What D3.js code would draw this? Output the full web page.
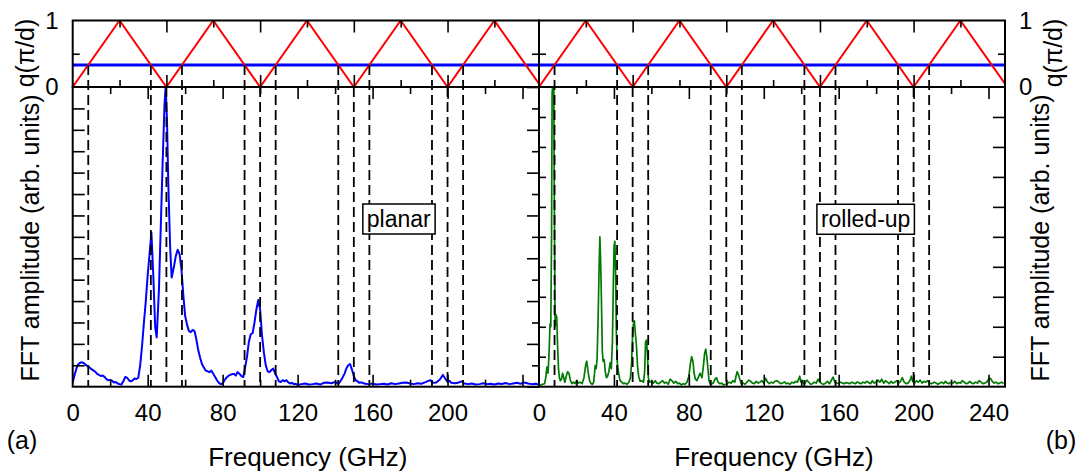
<!DOCTYPE html>
<html>
<head>
<meta charset="utf-8">
<script src="https://cdn.jsdelivr.net/npm/d3@7"></script>
<style>
body { margin: 0; background: #fff; }
text { font-family: "Liberation Sans", Arial, sans-serif; fill: #000; }
</style>
</head>
<body>
<div id="chart"></div>
<script>
// ---- data ----
var bandGHz = [0, 25, 50, 75, 100, 125, 150, 175, 200, 225, 250];
var bandQ   = [0, 1, 0, 1, 0, 1, 0, 1, 0, 1, 0];
var qLevel = 0.33;
var modeGHz = [8.3, 41.7, 50, 58.3, 91.7, 100, 108.3, 141.7, 150, 158.3, 191.7, 200, 208.3];
var modeQ   = [0.33, 0.33, 0, 0.33, 0.33, 0, 0.33, 0.33, 0, 0.33, 0.33, 0, 0.33];

var planarGHz = [0,1,2,3,4,5,6,7,8,9,10,11,12,13,14,15,16,17,18,19,20,21,22,23,24,25,26,27,28,29,30,31,32,33,34,35,36,37,38,39,40,41,42,43,44,44.8,46,47,48,49,49.6,50.3,51,52,52.8,54,55,56,57,58,59,60,61,62,63,64,65,66,67,68,69,70,71,72,73,74,75,76,77,78,79,80,81,82,83,84,85,86,87,88,89,90,91,92,93,94,95,96,97,98,99,100,101,102,103,104,105,106,107,108,109,110,111,112,113,114,115,116,117,118,119,120,122,124,126,128,130,132,134,136,138,140,142,143.5,145,146,147,148,149,150,151,152,153,154,156,158,160,162,164,166,168,170,172,174,176,178,180,182,184,186,188,190,191,192,194,196,197.5,199,200,201,202,204,206,207.5,209,211,213,215,217,219,221,223,225,227,229,231,233,235,237,239,241,243,245,247,249];
var planarAmp = [0.2,0.55,0.85,1.05,1.12,1.14,1.1,1.02,0.95,0.9,0.82,0.76,0.7,0.6,0.55,0.5,0.52,0.46,0.35,0.3,0.32,0.28,0.2,0.22,0.15,0.12,0.1,0.25,0.45,0.42,0.3,0.25,0.3,0.38,0.36,0.42,1.0,1.9,3.0,4.0,5.2,6.2,7.2,5.2,2.8,2.3,4.5,7.5,10.5,13.2,14.0,12.5,9.5,6.5,5.1,5.6,6.1,6.4,6.2,5.5,4.3,3.3,2.9,2.6,2.55,2.65,2.6,2.2,1.7,1.35,1.05,0.9,0.75,0.72,0.68,0.75,0.6,0.45,0.3,0.18,0.12,0.15,0.3,0.42,0.5,0.55,0.58,0.6,0.52,0.68,0.6,0.5,0.45,0.9,1.4,2.1,2.45,2.5,3.0,3.6,4.05,3.6,2.4,1.6,1.0,0.72,0.68,0.78,0.85,0.62,0.45,0.25,0.22,0.3,0.26,0.3,0.2,0.15,0.18,0.12,0.14,0.08,0.12,0.15,0.1,0.12,0.15,0.1,0.18,0.2,0.16,0.22,0.15,0.35,0.6,0.85,1.0,1.06,0.8,0.5,0.3,0.25,0.18,0.2,0.14,0.12,0.15,0.1,0.12,0.14,0.1,0.16,0.12,0.15,0.18,0.2,0.15,0.12,0.16,0.14,0.2,0.28,0.3,0.18,0.2,0.35,0.55,0.35,0.22,0.28,0.18,0.16,0.2,0.25,0.15,0.12,0.15,0.1,0.12,0.16,0.12,0.14,0.1,0.15,0.13,0.17,0.12,0.15,0.18,0.14,0.2,0.15,0.12,0.14,0.1];

var rolledGHz = [0,1,2,3,3.6,4.2,4.8,5.3,5.9,6.3,6.7,7.0,7.3,7.6,7.9,8.2,8.6,9.1,9.5,9.9,10.4,10.9,11.4,12,12.6,13.2,13.8,14.5,15.3,16,16.8,17.6,18.5,19.3,20.1,21,22,23,24,25,25.5,26.2,27,27.8,28.5,29.2,30,30.5,31,31.6,32.1,32.5,32.9,33.3,33.8,34.2,34.8,35.4,36,36.6,37.3,38,38.6,39.2,39.7,40.1,40.5,40.9,41.3,41.8,42.5,43.3,44.2,45,46,47,48,48.8,49.4,49.9,50.4,50.9,51.4,52,52.6,53.2,54,55,55.8,56.4,56.9,57.4,57.9,58.4,59,60,61,62,63,64,65,66,67,68,69,70,71,72,73,74,75,76,77,78,79,80,80.8,81.5,82.2,82.8,83.5,84.3,85,86,87,87.8,88.4,89,89.6,90.2,90.8,91.5,92.3,93,94,94.8,95.6,96.5,97.5,98.5,99.5,100.5,101.5,102.5,103.5,104.5,105.2,105.8,106.5,107.2,108,109,110,111,112,113,114,115,116,117,118,119,120,121,122,123,124,125,126,127,128,129,130,131,132,133,134,135,136,137,138,138.6,139.2,139.8,140.5,141.2,142,143,144,145,146,147,148,149,150,151,152,153,154,155,156,157,158,159,160,161,162,163,164,165,166,167,168,169,170,171,172,173,174,175,176,177,178,179,180,181,182,183,184,185,186,187,188,189,190,191,192,193,194,195,196,197,198,198.8,199.5,200.5,201.5,202.5,203.5,204.5,205.5,206.5,207.5,208.5,209.5,211,212,213,214,215,216,217,218,219,220,221,222,223,224,225,226,227,228,229,230,231,232,233,234,235,236,237,238,239,240,241,242,243,244,245,246,247,248];
var rolledAmp = [0.05,0.06,0.08,0.1,0.3,0.65,0.45,1.0,2.1,2.0,5.0,9.8,10.0,9.9,10.0,6.0,2.0,2.4,2.3,1.4,0.6,0.3,0.2,0.25,0.45,0.3,0.15,0.35,0.5,0.45,0.2,0.1,0.15,0.1,0.2,0.12,0.15,0.1,0.3,0.75,0.85,0.5,0.2,0.1,0.08,0.15,0.7,0.6,0.9,2.4,4.0,5.0,4.2,3.0,1.2,0.85,0.9,0.5,0.3,0.35,0.5,0.8,0.6,1.5,3.5,4.7,4.85,3.8,1.8,0.8,0.45,0.2,0.15,0.1,0.12,0.08,0.15,0.3,0.75,1.6,2.1,2.2,1.8,1.4,0.7,0.35,0.18,0.2,0.15,0.5,1.5,1.55,1.1,0.3,0.15,0.18,0.12,0.2,0.12,0.1,0.15,0.2,0.12,0.15,0.08,0.25,0.2,0.12,0.18,0.1,0.12,0.06,0.1,0.08,0.15,0.35,0.75,1.0,0.85,0.45,0.25,0.2,0.3,0.45,0.3,0.7,1.1,1.25,1.0,0.6,0.2,0.08,0.1,0.12,0.25,0.3,0.15,0.1,0.12,0.06,0.08,0.1,0.15,0.12,0.2,0.15,0.35,0.5,0.4,0.25,0.1,0.12,0.08,0.15,0.22,0.18,0.12,0.1,0.18,0.12,0.15,0.2,0.12,0.28,0.15,0.1,0.15,0.12,0.18,0.2,0.15,0.1,0.12,0.16,0.1,0.12,0.08,0.15,0.12,0.18,0.15,0.25,0.35,0.15,0.2,0.1,0.12,0.22,0.15,0.08,0.1,0.15,0.12,0.25,0.15,0.1,0.08,0.12,0.18,0.1,0.2,0.32,0.15,0.12,0.1,0.15,0.12,0.1,0.14,0.12,0.1,0.15,0.12,0.1,0.16,0.12,0.1,0.15,0.12,0.18,0.14,0.1,0.2,0.12,0.15,0.22,0.15,0.25,0.12,0.2,0.15,0.1,0.18,0.12,0.15,0.2,0.12,0.18,0.3,0.15,0.1,0.12,0.2,0.35,0.18,0.12,0.2,0.15,0.22,0.12,0.18,0.15,0.2,0.12,0.1,0.15,0.12,0.08,0.12,0.15,0.1,0.18,0.12,0.1,0.15,0.12,0.18,0.1,0.14,0.12,0.2,0.15,0.1,0.12,0.18,0.12,0.1,0.15,0.12,0.2,0.15,0.1,0.12,0.15,0.25,0.28,0.18,0.12,0.15,0.1,0.12,0.15,0.1];

var xLabelsA = [0, 40, 80, 120, 160, 200];
var xLabelsB = [0, 40, 80, 120, 160, 200, 240];

// ---- layout ----
var width = 1084, height = 473;
var left = 72.7, mid = 539, right = 1005;
var qTop = 20.5, qBot = 87, fBot = 386.7;

var svg = d3.select('#chart').append('svg')
  .attr('width', width).attr('height', height);

var xA = d3.scaleLinear().domain([0, 248.8]).range([left, mid]);
var xB = d3.scaleLinear().domain([0, 248.8]).range([mid, right]);
var yQ = d3.scaleLinear().domain([0, 1]).range([qBot, qTop]);
var yA = d3.scaleLinear().domain([0, 14]).range([fBot, qBot]);
var yB = d3.scaleLinear().domain([0, 10]).range([fBot, qBot]);

var defs = svg.append('defs');
function clip(id, x0, x1, y0, y1) {
  defs.append('clipPath').attr('id', id).append('rect')
    .attr('x', x0).attr('y', y0).attr('width', x1 - x0).attr('height', y1 - y0);
}
clip('cqa', left, mid, qTop, qBot + 1);
clip('cqb', mid, right, qTop, qBot + 1);
clip('cfa', left, mid, qBot, fBot);
clip('cfb', mid, right, qBot, fBot);

function tickAxis(axisFn, scale, values, size, tx, ty) {
  svg.append('g')
    .attr('transform', `translate(${tx},${ty})`)
    .call(axisFn(scale).tickValues(values).tickSize(size).tickFormat(''))
    .call(g => g.select('.domain').remove())
    .selectAll('line').attr('stroke', '#000').attr('stroke-width', 1.6);
}

var panels = [
  { x: xA, y: yA, cq: 'cqa', cf: 'cfa', ghz: planarGHz, amp: planarAmp, color: '#0000ff', lw: 2,
    labels: xLabelsA, yMajor: d3.range(0, 15, 2), yMinor: d3.range(1, 15, 2) },
  { x: xB, y: yB, cq: 'cqb', cf: 'cfb', ghz: rolledGHz, amp: rolledAmp, color: '#007a00', lw: 1.7,
    labels: xLabelsB, yMajor: d3.range(0, 11), yMinor: [] }
];

panels.forEach(function (p, k) {
  var x0 = p.x.range()[0], x1 = p.x.range()[1];

  // dispersion panel
  var gq = svg.append('g').attr('clip-path', `url(#${p.cq})`);
  gq.append('line')
    .attr('x1', x0).attr('x2', x1)
    .attr('y1', yQ(qLevel)).attr('y2', yQ(qLevel))
    .attr('stroke', '#0000ff').attr('stroke-width', 3);
  gq.append('path')
    .datum(d3.zip(bandGHz, bandQ))
    .attr('d', d3.line().x(d => p.x(d[0])).y(d => yQ(d[1])))
    .attr('fill', 'none').attr('stroke', '#ff0000').attr('stroke-width', 2);

  // spectrum
  svg.append('g').attr('clip-path', `url(#${p.cf})`)
    .append('path')
    .datum(d3.zip(p.ghz, p.amp))
    .attr('d', d3.line().x(d => p.x(d[0])).y(d => p.y(d[1])))
    .attr('fill', 'none').attr('stroke', p.color)
    .attr('stroke-width', p.lw).attr('stroke-linejoin', 'round');

  // mode guide lines
  svg.append('g').selectAll('line')
    .data(d3.zip(modeGHz, modeQ))
    .join('line')
    .attr('x1', d => p.x(d[0])).attr('x2', d => p.x(d[0]))
    .attr('y1', d => yQ(d[1])).attr('y2', fBot)
    .attr('stroke', '#000').attr('stroke-width', 1.8)
    .attr('stroke-dasharray', '10,5');

  // x ticks of the dispersion panel
  var q25 = [25, 75, 125, 175, 225], q50 = [50, 100, 150, 200];
  tickAxis(d3.axisTop, p.x, q50, 12, 0, qBot);
  tickAxis(d3.axisTop, p.x, q25, 7, 0, qBot);
  tickAxis(d3.axisBottom, p.x, q50, 12, 0, qTop);
  tickAxis(d3.axisBottom, p.x, q25, 7, 0, qTop);

  // x ticks of the spectrum
  var f40 = [40, 80, 120, 160, 200, 240], f20 = [20, 60, 100, 140, 180, 220];
  tickAxis(d3.axisTop, p.x, f40, 12, 0, fBot);
  tickAxis(d3.axisTop, p.x, f20, 7, 0, fBot);
  tickAxis(d3.axisBottom, p.x, f40, 12, 0, qBot);
  tickAxis(d3.axisBottom, p.x, f20, 7, 0, qBot);

  // q ticks
  tickAxis(d3.axisRight, yQ, [0.5], 7, x0, 0);
  tickAxis(d3.axisLeft, yQ, [0.5], 7, x1, 0);

  // amplitude ticks
  if (k === 0) {
    tickAxis(d3.axisRight, p.y, d3.range(1, 14), 12, x0, 0);
    tickAxis(d3.axisLeft, p.y, p.yMajor, 12, x1, 0);
    tickAxis(d3.axisLeft, p.y, p.yMinor, 7, x1, 0);
  } else {
    tickAxis(d3.axisRight, p.y, d3.range(1, 10), 7, x0, 0);
    tickAxis(d3.axisLeft, p.y, d3.range(1, 10), 12, x1, 0);
  }

  // frequency labels
  svg.append('g')
    .attr('transform', `translate(0,${fBot})`)
    .call(d3.axisBottom(p.x).tickValues(p.labels).tickSize(0).tickPadding(17).tickFormat(d3.format('d')))
    .call(g => g.select('.domain').remove())
    .selectAll('text').attr('font-size', 24).attr('font-family', '"Liberation Sans", Arial, sans-serif');

  svg.append('text')
    .attr('x', (x0 + x1) / 2 + 2).attr('y', 466)
    .attr('text-anchor', 'middle').attr('font-size', 26)
    .text('Frequency (GHz)');
});

// q tick labels
svg.append('g').attr('transform', `translate(${left},0)`)
  .call(d3.axisLeft(yQ).tickValues([0, 1]).tickSize(0).tickPadding(14).tickFormat(d3.format('d')))
  .call(g => g.select('.domain').remove())
  .selectAll('text').attr('font-size', 24).attr('font-family', '"Liberation Sans", Arial, sans-serif');
svg.append('g').attr('transform', `translate(${right},0)`)
  .call(d3.axisRight(yQ).tickValues([0, 1]).tickSize(0).tickPadding(14).tickFormat(d3.format('d')))
  .call(g => g.select('.domain').remove())
  .selectAll('text').attr('font-size', 24).attr('font-family', '"Liberation Sans", Arial, sans-serif');

// frames
function frame(x0, x1, y0, y1) {
  svg.append('rect').attr('x', x0).attr('y', y0)
    .attr('width', x1 - x0).attr('height', y1 - y0)
    .attr('fill', 'none').attr('stroke', '#000').attr('stroke-width', 2);
}
frame(left, mid, qTop, qBot);
frame(mid, right, qTop, qBot);
frame(left, mid, qBot, fBot);
frame(mid, right, qBot, fBot);

// rotated axis titles
function vtitle(x, y, s, txt) {
  svg.append('text')
    .attr('transform', `translate(${x},${y}) rotate(-90)`)
    .attr('text-anchor', 'middle').attr('font-size', s)
    .text(txt);
}
vtitle(34, 53, 25, 'q(\u03c0/d)');
vtitle(1062, 53, 25, 'q(\u03c0/d)');
vtitle(39, 238, 25, 'FFT amplitude (arb. units)');
vtitle(1049, 238, 25, 'FFT amplitude (arb. units)');

svg.append('text').attr('x', 22).attr('y', 449).attr('text-anchor', 'middle')
  .attr('font-size', 25).text('(a)');
svg.append('text').attr('x', 1061).attr('y', 449).attr('text-anchor', 'middle')
  .attr('font-size', 25).text('(b)');

// sample labels
function tag(px, py, txt) {
  var t = svg.append('text').attr('x', px).attr('y', py)
    .attr('text-anchor', 'middle').attr('font-size', 23).text(txt);
  var b = t.node().getBBox();
  svg.insert('rect', () => t.node())
    .attr('x', b.x - 4).attr('y', b.y - 2)
    .attr('width', b.width + 8).attr('height', b.height + 4)
    .attr('fill', '#fff').attr('stroke', '#000').attr('stroke-width', 1.5);
}
tag(xA(174), yA(7.46), 'planar');
tag(xB(174.4), yB(5.32), 'rolled-up');
</script>
</body>
</html>
